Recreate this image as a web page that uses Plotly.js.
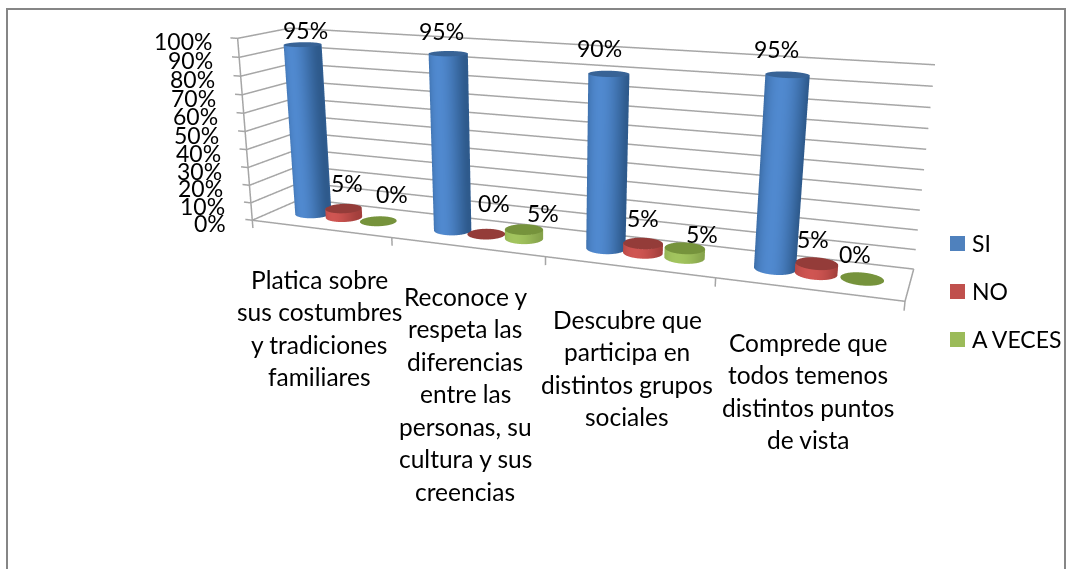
<!DOCTYPE html><html><head><meta charset="utf-8"><script src="https://cdn.plot.ly/plotly-3.0.1.min.js"></script>
<style>html,body{margin:0;background:#fff;overflow:hidden;width:1075px;height:569px}#g{position:absolute;left:0;top:-226px}</style></head><body><div id="g"></div>
<script>
var categories=[["Platica sobre","sus costumbres","y tradiciones","familiares"],
["Reconoce y","respeta las","diferencias","entre las","personas, su","cultura y sus","creencias"],
["Descubre que","participa en","distintos grupos","sociales"],
["Comprede que","todos temenos","distintos puntos","de vista"]];
var seriesNames=["SI","NO","A VECES"];
var si=[0.95,0.95,0.90,0.95];
var no=[0.05,0,0.05,0.05];
var aveces=[0,0.05,0.05,0];
var zTicks=[0,0.1,0.2,0.3,0.4,0.5,0.6,0.7,0.8,0.9,1];
var tickLabels=["0%","10%","20%","30%","40%","50%","60%","70%","80%","90%","100%"];

var W=1134,H=945,TOP=-226;
function px(x){return x/W} function py(y){return 1-(y-TOP)/H}
var A={x:2.2100,y:0.3074,z:0.6322}, XR=[-0.02,1.01], YR=[-0.01,1.01], ZR=[-0.05,1.01];
var off={x:(0.5-(XR[0]+XR[1])/2)*A.x,y:(0.5-(YR[0]+YR[1])/2)*A.y,z:(0.5-(ZR[0]+ZR[1])/2)*A.z};
var FONT='Lato, "Open Sans", sans-serif';

var styles=[{side:['#2e5a8c','#5089cf'],top:'#386396'},{side:['#a33f3c','#cf5552'],top:'#943c39'},{side:['#86a34b','#a2c45e'],top:'#76933c'}];
var values=[si,no,aveces];
var seriesOffset=[-0.057,0,0.0625],RX=0.029,RY=0.2,NT=64;
var traces=[];
var gx=[],gy=[],gz=[];
zTicks.forEach(function(z){gx.push(-0.013,0,0,1,null);gy.push(0,0,1,1,null);gz.push(z,z,z,z,null)});
gx.push(0,1,1,null, 0,0,null);gy.push(0,0,1,null, 0,0,null);gz.push(0,0,0,null, 0,1,null);
[0,0.25,0.5,0.75,1].forEach(function(u){gx.push(u,u,null);gy.push(0,0,null);gz.push(0,-0.045,null)});
traces.push({type:'scatter3d',mode:'lines',x:gx,y:gy,z:gz,line:{color:'#a6a6a6',width:3},showlegend:false,hoverinfo:'skip'});
values.forEach(function(vals,s){
 vals.forEach(function(v,i){
  var cx=(i+0.5)/4+seriesOffset[s],cy=0.5,sx=[],sy=[],sz=[],sc=[],tx=[],ty=[],tz=[],tc=[];
  [0,1].forEach(function(k){var a=[],b=[],c=[],d=[],e=[],f=[],g=[],h=[];
   for(var t=0;t<=NT;t++){var th=2*Math.PI*t/NT,u=Math.cos(th),w=Math.sin(th);
    a.push(cx+RX*u);b.push(cy+RY*w);c.push(k*v);var q=(u+0.1)/1.1;d.push(Math.max(0,1-q*q));
    e.push(cx+k*RX*u);f.push(cy+k*RY*w);g.push(v);h.push(0);}
   sx.push(a);sy.push(b);sz.push(c);sc.push(d);tx.push(e);ty.push(f);tz.push(g);tc.push(h);});
  var lit={ambient:1,diffuse:0,specular:0,roughness:1,fresnel:0};
  if(v>0)traces.push({type:'surface',name:seriesNames[s],x:sx,y:sy,z:sz,surfacecolor:sc,cmin:0,cmax:1,colorscale:[[0,styles[s].side[0]],[1,styles[s].side[1]]],showscale:false,lighting:lit,hoverinfo:'skip'});
  traces.push({type:'surface',name:seriesNames[s],x:tx,y:ty,z:tz,surfacecolor:tc,cmin:0,cmax:1,colorscale:[[0,styles[s].top],[1,styles[s].top]],showscale:false,lighting:lit,hoverinfo:'skip'});
 });
});
var sceneAnn=zTicks.map(function(z,i){return {x:0,y:0,z:z,text:tickLabels[i],showarrow:false,xanchor:'right',yanchor:'middle',xshift:-24,yshift:-3,font:{family:FONT,size:23,color:'#000'}}});
var catCenter=[319,465,627,808],catFirst=[279,296,319,342],LINE=32.5;
var ann=[];
categories.forEach(function(lines,i){lines.forEach(function(t,j){ann.push({xref:'paper',yref:'paper',x:px(catCenter[i]),y:py(catFirst[i]+j*LINE),text:t,showarrow:false,xanchor:'center',yanchor:'middle',font:{family:FONT,size:24.5,color:'#000'}})})});
var lblPos=[[[305,30],[441,31],[599,48],[776,49]],[[347,183],[494,203],[643,218],[813,239]],[[392,194],[543,213],[702,234],[855,254]]];
values.forEach(function(vals,s){vals.forEach(function(v,i){ann.push({xref:'paper',yref:'paper',x:px(lblPos[s][i][0]),y:py(lblPos[s][i][1]),text:Math.round(v*100)+'%',showarrow:false,xanchor:'center',yanchor:'middle',font:{family:FONT,size:23,color:'#000'}})})});
var legendColors=['#4f81bd','#c0504d','#9bbb59'],legTop=[236,284,332];
var shapes=[{type:'rect',xref:'paper',yref:'paper',x0:px(7),x1:px(1065),y0:py(9),y1:py(600),line:{color:'#868686',width:2},fillcolor:'rgba(0,0,0,0)'}];
seriesNames.forEach(function(n,s){
 shapes.push({type:'rect',xref:'paper',yref:'paper',x0:px(950),x1:px(965),y0:py(legTop[s]),y1:py(legTop[s]+15),line:{width:0},fillcolor:legendColors[s]});
 ann.push({xref:'paper',yref:'paper',x:px(972),y:py(legTop[s]+7),text:n,showarrow:false,xanchor:'left',yanchor:'middle',xshift:-2,font:{family:FONT,size:23,color:'#000'}});
});
Plotly.newPlot('g',traces,{width:W,height:H,margin:{l:0,r:0,t:0,b:0},paper_bgcolor:'#fff',showlegend:false,
 annotations:ann,shapes:shapes,
 scene:{domain:{x:[0,1],y:[0,1]},aspectmode:'manual',aspectratio:{x:A.x*(XR[1]-XR[0]),y:A.y*(YR[1]-YR[0]),z:A.z*(ZR[1]-ZR[0])},
  camera:{eye:{x:1.2709+off.x,y:-3.3587+off.y,z:0.8158+off.z},center:{x:0.2394+off.x,y:-0.5993+off.y,z:-0.1221+off.z},up:{x:0.5390,y:-1.4511,z:1}},
  xaxis:{range:XR,visible:false},yaxis:{range:YR,visible:false},zaxis:{range:ZR,visible:false},annotations:sceneAnn}
},{displayModeBar:false});
</script></body></html>
